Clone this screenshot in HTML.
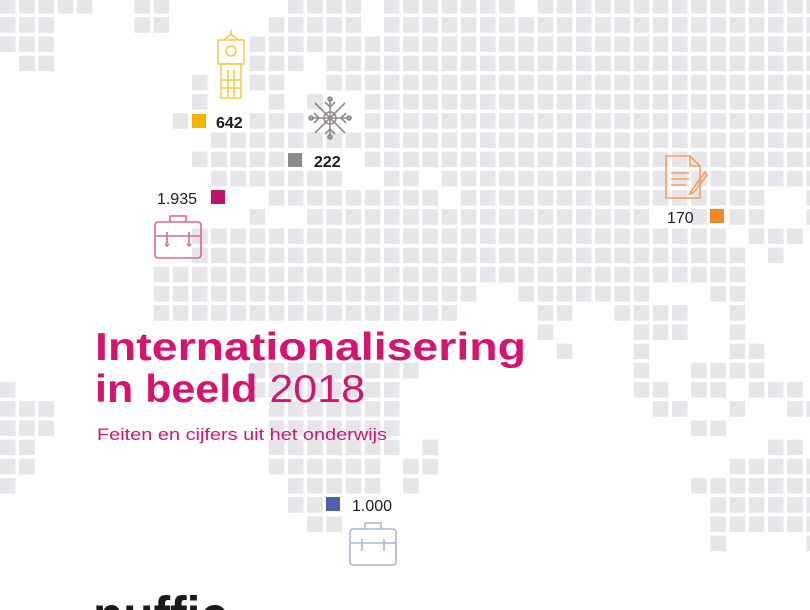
<!DOCTYPE html>
<html><head><meta charset="utf-8"><style>
html,body{margin:0;padding:0;background:#fff;width:810px;height:610px;overflow:hidden;}
#wrap{position:relative;width:810px;height:610px;overflow:hidden;background:#fff;font-family:"Liberation Sans",sans-serif;}
svg{position:absolute;left:0;top:0;}
</style></head><body><div id="wrap">
<svg id="g" width="810" height="610" viewBox="0 0 810 610" xmlns="http://www.w3.org/2000/svg"></svg>
<svg width="810" height="610" viewBox="0 0 810 610" xmlns="http://www.w3.org/2000/svg" overflow="hidden">
<rect x="192" y="114" width="14" height="14" fill="#f5b400"/>
<text x="216" y="128" font-size="16" font-weight="bold" fill="#1c1c1c">642</text>
<rect x="288" y="153" width="14" height="14" fill="#8f8a8a"/>
<text x="314" y="167" font-size="16" font-weight="bold" fill="#1c1c1c">222</text>
<rect x="211" y="190" width="14" height="14" fill="#c0136b"/>
<text x="197" y="204" font-size="16" text-anchor="end" fill="#1c1c1c">1.935</text>
<rect x="710" y="209" width="14" height="14" fill="#f0872a"/>
<text x="667" y="223" font-size="16" fill="#1c1c1c">170</text>
<rect x="326" y="497" width="14" height="14" fill="#4f5fad"/>
<text x="352" y="511" font-size="16" fill="#1c1c1c">1.000</text>
<g fill="none" stroke="#f0cc4a" stroke-width="1.5">
<path d="M231 30 L231 34 M224 40 L231 34 L238 40"/>
<rect x="218" y="40" width="26" height="24"/>
<circle cx="231" cy="51" r="5"/>
<rect x="221" y="64" width="20" height="34"/>
<path d="M221 80 H241 M221 88 H241 M228 70 V97 M234 70 V97"/>
</g>
<g fill="none" stroke="#8f8a8a" stroke-width="1.6">
<circle cx="330" cy="118" r="6"/>
<path d="M330 97 V139 M309 118 H351 M315 103 L345 133 M345 103 L315 133"/>
<circle cx="330" cy="99" r="2"/><circle cx="330" cy="137" r="2"/><circle cx="311" cy="118" r="2"/><circle cx="349" cy="118" r="2"/>
<path d="M325 102 L330 107 L335 102 M325 134 L330 129 L335 134 M314 113 L319 118 L314 123 M346 113 L341 118 L346 123"/>
</g>
<g fill="none" stroke="#d46a8e" stroke-width="1.6">
<rect x="155" y="222" width="46" height="36" rx="3"/>
<path d="M170 222 V216 H186 V222 M155 236 H201 M167 232 V244 M189 232 V244 M165 244 L167 246 L169 244 M187 244 L189 246 L191 244"/>
</g>
<g fill="none" stroke="#a9b7d6" stroke-width="1.6">
<rect x="350" y="529" width="46" height="36" rx="3"/>
<path d="M365 529 V523 H381 V529 M350 543 H396 M362 539 V551 M384 539 V551"/>
</g>
<g fill="none" stroke="#f0a060" stroke-width="1.6">
<path d="M666 156 H690 L700 166 V198 H666 Z M690 156 V166 H700"/>
<path d="M671 173 H689 M671 179 H689 M671 185 H686"/>
<path d="M705 172 L692 190 L689 195 L694 192 L707 175 Z"/>
</g>
<text x="95" y="360" font-size="39" font-weight="bold" fill="#d4146e" textLength="431" lengthAdjust="spacingAndGlyphs">Internationalisering</text>
<text x="95" y="402" font-size="39" fill="#d4146e" textLength="270" lengthAdjust="spacingAndGlyphs"><tspan font-weight="bold">in beeld</tspan> 2018</text>
<text x="97" y="440" font-size="16.5" fill="#d4146e" textLength="290" lengthAdjust="spacingAndGlyphs">Feiten en cijfers uit het onderwijs</text>
<text x="93" y="634" font-size="54" font-weight="bold" fill="#1a1a1a" textLength="135" lengthAdjust="spacingAndGlyphs">nuffic</text>
</svg>
<script>
var rows=[
[[0,4],[7,8],[15,18],[20,26],[28,42]],
[[0,2],[7,8],[14,18],[20,42]],
[[0,2],[13,42]],
[[1,2],[13,15],[17,42]],
[[10,10],[13,14],[17,42]],
[[10,10],[14,14],[16,16],[19,42]],
[[9,9],[13,15],[19,42]],
[[11,42]],
[[10,14],[19,42]],
[[11,17],[20,21],[23,42]],
[[14,22],[24,39],[42,42]],
[[13,13],[16,33],[36,36],[38,39],[42,42]],
[[10,37],[39,41]],
[[10,38],[40,40]],
[[8,38]],
[[8,24],[27,33],[37,38]],
[[8,23],[28,29],[32,35],[38,38]],
[[28,28],[33,35],[38,38]],
[[29,29],[33,33],[38,39]],
[[13,21],[33,33],[36,39]],
[[0,0],[13,20],[33,34],[36,37],[39,41]],
[[0,2],[14,20],[34,35],[38,38],[41,42]],
[[0,2],[14,20],[36,37]],
[[0,1],[14,20],[22,22],[40,41]],
[[0,1],[14,19],[21,22],[38,42]],
[[0,0],[15,19],[21,21],[36,42]],
[[15,16],[37,42]],
[[16,17],[37,42]],
[[37,37],[42,42]]
];
var s='';
for(var r=0;r<rows.length;r++){for(var k=0;k<rows[r].length;k++){var a=rows[r][k];for(var c=a[0];c<=a[1];c++){
s+='<rect x="'+(c*19.2).toFixed(1)+'" y="'+(r*19.2-2).toFixed(1)+'" width="15.6" height="15.6" fill="#e6e6ea"/>';}}}
document.getElementById('g').innerHTML=s;
</script>
</div></body></html>
